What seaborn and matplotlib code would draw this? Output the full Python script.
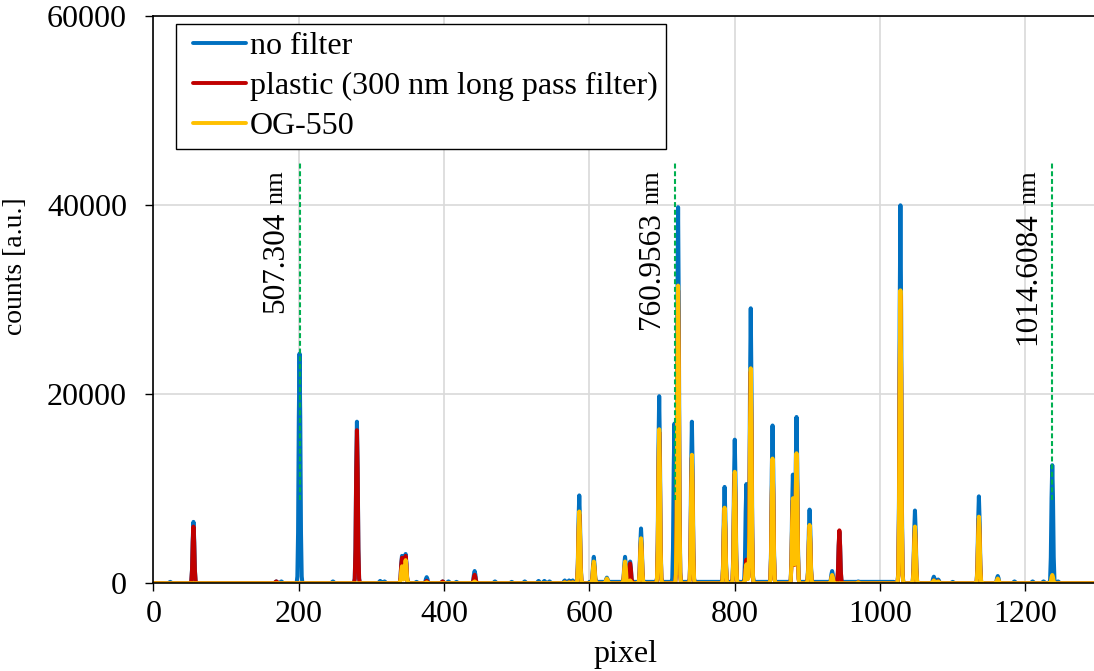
import numpy as np
import pandas as pd
import matplotlib
matplotlib.use("Agg")
import matplotlib.pyplot as plt
from matplotlib.lines import Line2D
from matplotlib.legend_handler import HandlerLine2D
import seaborn as sns

# Emission lines: detector pixel and peak counts for each filter configuration
line_pixel = [23, 55, 169, 176, 201, 247, 280, 312, 318, 342, 347, 362, 376, 398,
              406, 417, 442, 470, 493, 511, 530, 538, 545, 566, 572, 577, 586, 606,
              624, 649, 656, 671, 696, 717, 722, 741, 786, 800, 816, 822, 852, 880,
              885, 903, 934, 944, 970, 1028, 1048, 1074, 1080, 1100, 1136, 1162,
              1185, 1210, 1225, 1237, 1245]
counts_no_filter = [150, 6500, 200, 200, 24300, 200, 17100, 250, 200, 2900, 3100, 150, 650, 200,
                    200, 150, 1300, 200, 150, 200, 250, 250, 200, 300, 300, 300, 9300, 2800,
                    600, 2800, 2300, 5800, 19800, 16900, 39800, 17100, 10200, 15200, 10500, 29100, 16700, 11500,
                    17600, 7800, 1300, 5400, 200, 40000, 7700, 700, 400, 150, 9200, 770,
                    200, 200, 200, 12500, 200]
counts_plastic = [0, 6000, 200, 0, 0, 0, 16200, 0, 0, 2700, 2900, 0, 250, 200,
                  0, 0, 900, 0, 0, 0, 0, 0, 0, 100, 100, 100, 7300, 2100,
                  400, 2000, 2100, 4600, 16000, 0, 31000, 13300, 7900, 11600, 2500, 22400, 13000, 8800,
                  13500, 6000, 800, 5600, 100, 30500, 5900, 300, 200, 0, 6900, 400,
                  0, 0, 0, 500, 0]
counts_og550 = [0, 0, 0, 0, 0, 0, 0, 0, 0, 1800, 2450, 0, 100, 0,
                0, 0, 200, 0, 0, 0, 0, 0, 0, 100, 100, 100, 7600, 2300,
                500, 2300, 300, 4760, 16300, 0, 31500, 13600, 8000, 11800, 2000, 22750, 13200, 9000,
                13760, 6170, 880, 0, 100, 31000, 6000, 300, 200, 0, 7050, 500,
                0, 0, 0, 880, 0]

# Raised background of the unfiltered spectrum: (first pixel, last pixel, counts)
no_filter_background = [(600, 1020, 150)]

# Wavelength calibration lines
calib_pixel = [201, 718, 1237]
calib_label = ["507.304", "760.9563", "1014.6084"]
calib_span = (8800, 44500)

series_names = ["no filter", "plastic (300 nm long pass filter)", "OG-550"]
series_colors = ["#0070C0", "#C00000", "#FFC000"]

x_ticks = [0, 200, 400, 600, 800, 1000, 1200]
y_ticks = [0, 20000, 40000, 60000]

N_PIXEL = 1300
# relative instrument line shape over pixels -3 .. +3
LINE_PROFILE = np.array([0.03, 0.22, 0.72, 1.0, 0.72, 0.22, 0.03])


def spectrum(heights, background=()):
    y = np.zeros(N_PIXEL)
    for start, stop, level in background:
        y[start:stop] = level
    half = len(LINE_PROFILE) // 2
    for p, h in zip(line_pixel, heights):
        seg = slice(p - half, p - half + len(LINE_PROFILE))
        y[seg] = np.maximum(y[seg], h * LINE_PROFILE)
    return y


pixels = np.arange(N_PIXEL)
frames = []
for name, heights, bg in zip(series_names,
                             [counts_no_filter, counts_plastic, counts_og550],
                             [no_filter_background, (), ()]):
    frames.append(pd.DataFrame({"pixel": pixels, "counts": spectrum(heights, bg), "series": name}))
df = pd.concat(frames, ignore_index=True)

sns.set_theme(style="whitegrid")
plt.rcParams["font.family"] = ["Liberation Serif", "DejaVu Serif"]

FS = 23
fig = plt.figure(figsize=(10.94, 6.71), dpi=100)
fig.patch.set_facecolor("white")
ax = fig.add_axes([0.1403, 0.1307, 0.8634, 0.8450])

sns.lineplot(data=df, x="pixel", y="counts", hue="series", hue_order=series_names,
             palette=dict(zip(series_names, series_colors)), estimator=None,
             linewidth=2.9, legend=False, ax=ax)
for ln in ax.lines:
    ln.set_solid_joinstyle("round")
    ln.set_solid_capstyle("round")

ax.set_xlim(0, 1300)
ax.set_ylim(0, 60000)
ax.set_xticks(x_ticks)
ax.set_yticks(y_ticks)
ax.tick_params(axis="both", which="major", direction="out", length=6, width=1,
               color="black", labelsize=FS, labelcolor="black", bottom=True, left=True)
ax.tick_params(axis="x", pad=6)
ax.tick_params(axis="y", pad=13)

for side in ["left", "top", "bottom"]:
    ax.spines[side].set_visible(True)
    ax.spines[side].set_color("black")
    ax.spines[side].set_linewidth(1.2)
ax.spines["right"].set_visible(False)
ax.grid(True, axis="both", color="#D9D9D9", linewidth=1.2)
ax.set_axisbelow(True)

ax.set_xlabel("pixel", fontsize=FS, color="black")
ax.set_ylabel("counts [a.u.]", fontsize=20, color="black")
ax.xaxis.set_label_coords(0.5, -0.10)
ax.yaxis.set_label_coords(-0.133, 0.56)

# calibration markers
for p in calib_pixel:
    ax.plot([p, p], list(calib_span), color="#00B050", linewidth=1.5,
            dashes=(2.4, 1.3), zorder=5)

fig.canvas.draw()
text_top = 43735
for p, lab in zip(calib_pixel, calib_label):
    nm = ax.annotate("nm", xy=(p, text_top), xytext=(-12, 0), textcoords="offset points",
                     rotation=90, rotation_mode="anchor", ha="right", va="baseline",
                     fontsize=19, color="black")
    fig.canvas.draw()
    nm_len = nm.get_window_extent().height
    gap = 8
    ax.annotate(lab, xy=(p, text_top), xytext=(-12, -(nm_len + gap) * 72 / fig.dpi),
                textcoords="offset points", rotation=90, rotation_mode="anchor",
                ha="right", va="baseline", fontsize=22.5, color="black")

handles = [Line2D([], [], color=c, linewidth=2.8) for c in series_colors]
leg = ax.legend(handles, series_names, loc="upper left", bbox_to_anchor=(0.0238, 0.9864),
                fontsize=FS, frameon=True, fancybox=False, framealpha=1, edgecolor="black",
                handlelength=1.95, handletextpad=0.12, borderpad=0.25, labelspacing=0.33,
                borderaxespad=0, handler_map={Line2D: HandlerLine2D(xpad=0.28)})
leg.get_frame().set_linewidth(1.0)
for t in leg.get_texts():
    t.set_color("black")

fig.savefig("out.png", dpi=100, facecolor="white")
